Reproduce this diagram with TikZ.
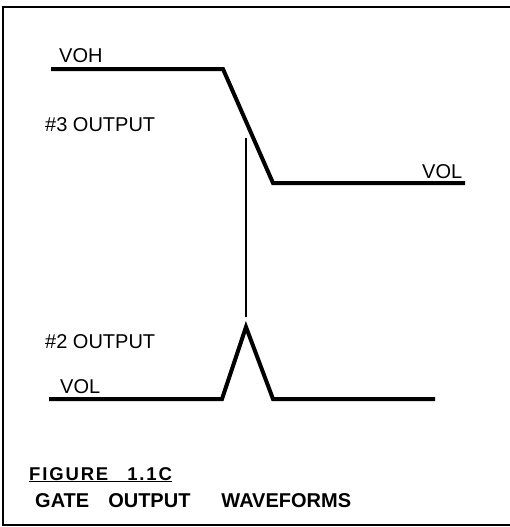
\documentclass[tikz,border=0pt]{standalone}
\usepackage{fontspec}
\setmainfont{Liberation Sans}
\usepackage{tikz}

\begin{document}
\begin{tikzpicture}[x=1pt,y=-1pt]
\useasboundingbox (0,0) rectangle (510,527);
\tikzset{lbl/.style={anchor=base west, inner sep=0pt, font=\fontsize{20}{22}\selectfont},
  wave/.style={line width=4pt}}
\draw[line width=2pt] (515,7) -- (3,7) -- (3,525) -- (515,525);
% #3 output
\draw[wave] (51,69) -- (223,69) -- (273,183) -- (465,183);
\node[lbl] (voh) at (59,63) {VOH};
\node[lbl] (out3) at (45,131) {\#3 OUTPUT};
\node[lbl] (vol3) at (422,178) {VOL};
% marker
\draw[line width=1.5pt] (246,138) -- (246,317);
% #2 output
\draw[wave] (49,399) -- (222,399) -- (246,327) -- (273,399) -- (435,399);
\node[lbl] (out2) at (45,348) {\#2 OUTPUT};
\node[lbl] (vol2) at (60,393) {VOL};
% caption
\node[lbl, font=\fontsize{18.5}{22}\selectfont\bfseries\addfontfeature{LetterSpace=10}] (fig) at (29,480) {\underline{FIGURE\hspace{19pt}1.1C}};
\node[lbl, font=\fontsize{20}{22}\selectfont\bfseries] (title) at (35,507) {GATE\hspace{19pt}OUTPUT\hspace{31pt}WAVEFORMS};
\end{tikzpicture}
\end{document}
